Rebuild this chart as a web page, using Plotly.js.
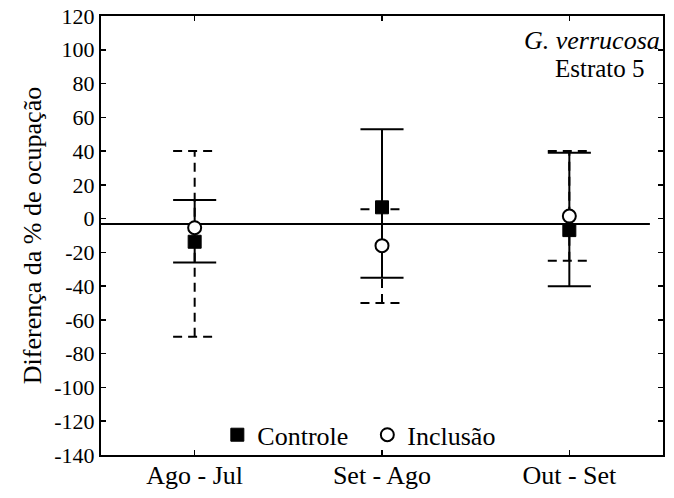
<!DOCTYPE html>
<html>
<head>
<meta charset="utf-8">
<script src="https://cdn.plot.ly/plotly-3.0.1.min.js"></script>
<style>html,body{margin:0;padding:0;background:#fff;}#chart{width:674px;height:498px;}</style>
</head>
<body>
<div id="chart"></div>
<script>
var categories = ['Ago - Jul', 'Set - Ago', 'Out - Set'];
var catPos = [0, 1, 2];
var controleMean = [-13.7, 6.7, -6.8];
var controleUpper = [11, 53, 39];
var controleLower = [-26, -35, -40];
var inclusaoMean = [-5.4, -16, 1.5];
var inclusaoUpper = [40, 5.5, 40];
var inclusaoLower = [-70, -50, -25];
var yTickVals = [-140, -120, -100, -80, -60, -40, -20, 0, 20, 40, 60, 80, 100, 120];
var yTickText = ['-140', '-120', '-100', '-80', '-60', '-40', '-20', '0', '20', '40', '60', '80', '100', '120'];
var refLineY = -3.2;

var FONT = 'Liberation Serif';
var capHalf = 0.115;
var shapes = [];

function addBars(upper, lower, dash) {
  for (var i = 0; i < catPos.length; i++) {
    var x = catPos[i];
    var ln = {color: '#000', width: 2, dash: dash};
    shapes.push({type: 'line', xref: 'x', yref: 'y', x0: x, x1: x, y0: lower[i], y1: upper[i], line: ln, layer: 'below'});
    shapes.push({type: 'line', xref: 'x', yref: 'y', x0: x - capHalf, x1: x + capHalf, y0: upper[i], y1: upper[i], line: ln, layer: 'below'});
    shapes.push({type: 'line', xref: 'x', yref: 'y', x0: x - capHalf, x1: x + capHalf, y0: lower[i], y1: lower[i], line: ln, layer: 'below'});
  }
}
shapes.push({type: 'line', xref: 'x', yref: 'y', x0: -0.5, x1: 2.43, y0: refLineY, y1: refLineY, line: {color: '#000', width: 2}, layer: 'below'});
addBars(inclusaoUpper, inclusaoLower, '9px,6px');
addBars(controleUpper, controleLower, 'solid');

var traces = [
  {x: catPos, y: controleMean, type: 'scatter', mode: 'markers', name: 'Controle',
   marker: {symbol: 'square', size: 13, color: '#000', line: {color: '#000', width: 1}}},
  {x: catPos, y: inclusaoMean, type: 'scatter', mode: 'markers', name: 'Inclusão',
   marker: {symbol: 'circle', size: 13, color: '#fff', line: {color: '#000', width: 2}}}
];

var layout = {
  width: 674, height: 498,
  margin: {l: 101, r: 11, t: 16, b: 43},
  paper_bgcolor: '#fff', plot_bgcolor: '#fff',
  font: {family: FONT, color: '#000', size: 20},
  showlegend: true,
  legend: {orientation: 'h', x: 0.207, xanchor: 'left', y: 0.046, yanchor: 'middle', entrywidth: 105,
           bgcolor: 'rgba(0,0,0,0)', font: {family: FONT, size: 26, color: '#000'}},
  xaxis: {range: [-0.5, 2.5], tickvals: catPos, ticktext: categories, showgrid: false, zeroline: false,
          showline: true, linecolor: '#000', linewidth: 2, mirror: 'ticks', ticks: 'inside', ticklen: 5, tickwidth: 1.5,
          ticklabelstandoff: -4,
          tickcolor: '#000', tickfont: {family: FONT, size: 26, color: '#000'}},
  yaxis: {range: [-140, 120], tickvals: yTickVals, ticktext: yTickText, showgrid: false, zeroline: false,
          showline: true, linecolor: '#000', linewidth: 2, mirror: 'ticks', ticks: 'inside', ticklen: 5, tickwidth: 1.5,
          tickcolor: '#000', tickfont: {family: FONT, size: 22, color: '#000'},
          title: {text: 'Diferença da % de ocupação', font: {family: FONT, size: 26, color: '#000'}, standoff: 5}},
  shapes: shapes,
  annotations: [
    {xref: 'paper', yref: 'paper', x: 0.998, y: 0.944, xanchor: 'right', yanchor: 'middle', showarrow: false,
     text: '<i>G. verrucosa</i>', font: {family: FONT, size: 26, color: '#000'}},
    {xref: 'paper', yref: 'paper', x: 0.972, y: 0.88, xanchor: 'right', yanchor: 'middle', showarrow: false,
     text: 'Estrato 5', font: {family: FONT, size: 25, color: '#000'}}
  ]
};

Plotly.newPlot('chart', traces, layout, {displayModeBar: false, staticPlot: true});
</script>
</body>
</html>
